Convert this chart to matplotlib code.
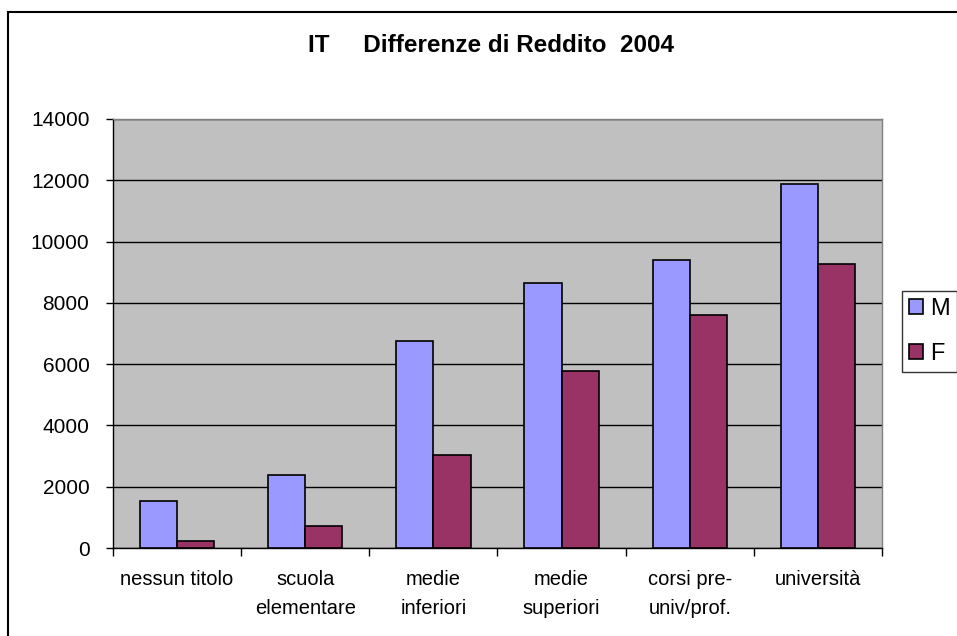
"""IT - Differenze di Reddito 2004: grouped bars, Excel-style."""
import numpy as np
import matplotlib
matplotlib.use("Agg")
import matplotlib.pyplot as plt
from matplotlib.patches import Rectangle

plt.rcParams["font.family"] = ["Liberation Sans", "DejaVu Sans"]

categories = ["nessun titolo", "scuola\nelementare", "medie\ninferiori",
              "medie\nsuperiori", "corsi pre-\nuniv/prof.", "università"]
male = [1545, 2383, 6747, 8662, 9390, 11892]
female = [238, 718, 3050, 5791, 7596, 9259]
y_ticks = [0, 2000, 4000, 6000, 8000, 10000, 12000, 14000]

fig = plt.figure(figsize=(9.57, 6.36), dpi=100)
fig.patch.set_facecolor("white")

# outer chart frame (runs off the right/bottom edge like the original)
fig.add_artist(Rectangle((8 / 957, -0.5), 2.0, 0.5 + (636 - 12) / 636,
                         transform=fig.transFigure, fill=False,
                         edgecolor="black", linewidth=1.5))

ax = fig.add_axes([113 / 957, (636 - 548) / 636, 769 / 957, 429 / 636])
ax.set_facecolor("#C0C0C0")

x = np.arange(len(categories))
w = 0.29
ax.bar(x - w / 2, male, w, color="#9999FF", edgecolor="black",
       linewidth=1.2, label="M", zorder=3)
ax.bar(x + w / 2, female, w, color="#993366", edgecolor="black",
       linewidth=1.2, label="F", zorder=3)

ax.set_xlim(-0.5, len(categories) - 0.5)
ax.set_ylim(0, 14000)
ax.set_yticks(y_ticks)
ax.set_yticklabels([str(v) for v in y_ticks], fontsize=15)
ax.yaxis.grid(True, color="black", linewidth=1.0, zorder=1)
ax.set_axisbelow(True)

# tick marks at category boundaries, labels at centres
ax.set_xticks(np.arange(len(categories) + 1) - 0.5)
ax.set_xticklabels([])
ax.set_xticks(x, minor=True)
ax.set_xticklabels(categories, minor=True, fontsize=14.5, linespacing=1.65,
                   va="top")
ax.tick_params(axis="x", which="major", direction="out", length=6,
               width=1, color="black")
ax.tick_params(axis="x", which="minor", length=0, pad=16)
ax.tick_params(axis="y", direction="out", length=5, width=1, pad=12)

for side in ["top", "right"]:
    ax.spines[side].set_color("#808080")
    ax.spines[side].set_linewidth(1.0)
for side in ["left", "bottom"]:
    ax.spines[side].set_color("black")
    ax.spines[side].set_linewidth(1.0)

fig.text(491 / 957, 1 - 46 / 636, "IT     Differenze di Reddito  2004",
         ha="center", va="center", fontsize=17.5, fontweight="bold")

leg = ax.legend(loc="upper left", bbox_to_anchor=(902 / 957, 1 - 291 / 636),
                bbox_transform=fig.transFigure, fontsize=17, frameon=True,
                fancybox=False, edgecolor="black", handlelength=0.6,
                handleheight=0.6, handletextpad=0.3, borderpad=0.3,
                labelspacing=0.95, borderaxespad=0)
leg.get_frame().set_linewidth(1.0)
leg.get_frame().set_facecolor("white")

fig.savefig("out.png", dpi=100, facecolor="white")
